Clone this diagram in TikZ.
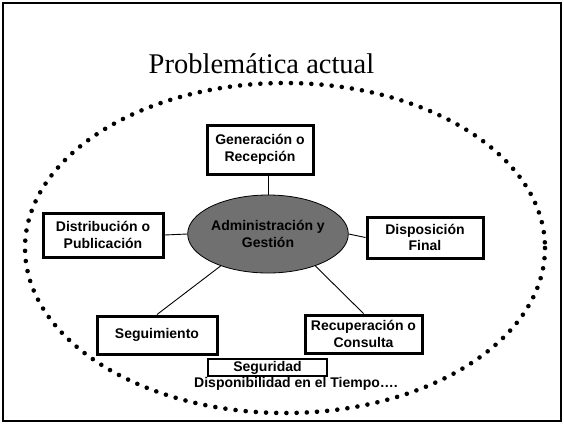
\documentclass[tikz,border=0pt]{standalone}
\usepackage{fontspec}
\setmainfont{Liberation Serif}
\setsansfont{Liberation Sans}
\usetikzlibrary{shapes.geometric}
\definecolor{hubgray}{RGB}{112,112,112}
\begin{document}
\begin{tikzpicture}[x=1pt,y=-1pt,
  label/.style={font=\sffamily\bfseries\fontsize{14}{16.5}\selectfont, align=center},
  stagebox/.style={label, draw=black, line width=3pt, fill=white, inner sep=0pt},
  hub/.style={label, ellipse, draw=black, line width=0.8pt, fill=hubgray,
    minimum width=130pt, minimum height=78pt, inner sep=0pt},
  link/.style={draw=black, line width=0.9pt},
  ring/.style={draw=black, line width=4.6pt, line cap=round, dash pattern=on 0pt off 10.2pt}]
  \useasboundingbox (0,0) rectangle (564,424);
  % slide frame
  \draw[line width=2pt] (3,3) rectangle (561,421);
  % title
  \node[font=\fontsize{28.5}{32}\selectfont, anchor=base] (title) at (261.5,73) {Problemática actual};
  % dotted boundary
  \draw[ring] (285,248) ellipse [x radius=260, y radius=165];
  % central process
  \node[hub] (adm) at (268,234) {Administración y\\Gestión};
  % stages
  \node[stagebox, minimum width=106pt, minimum height=49pt] (gen) at (260,149.5) {Generación o\\Recepción};
  \node[stagebox, minimum width=120pt, minimum height=44pt] (dist) at (103,235) {Distribución o\\Publicación};
  \node[stagebox, minimum width=116pt, minimum height=41pt] (disp) at (425,237.5) {Disposición\\Final};
  \node[stagebox, minimum width=120pt, minimum height=38pt] (seg) at (157,335) {Seguimiento};
  \node[stagebox, minimum width=117pt, minimum height=38pt] (rec) at (363.5,334) {Recuperación o\\Consulta};
  % cross-cutting aspects
  \node[label, draw=black, line width=2pt, fill=white, minimum width=119pt, minimum height=17pt, inner sep=0pt] (segur) at (267.5,367.5) {Seguridad};
  \node[label, inner sep=0pt] (disptime) at (296,384) {Disponibilidad en el Tiempo….};
  % connectors
  \draw[link] (adm.north) -- (adm.north |- gen.south);
  \draw[link] (dist.east) -- (adm.west);
  \draw[link] (adm.east) -- (disp.west);
  \draw[link] (adm.214) -- (seg.north);
  \draw[link] (adm.-34) -- (rec.north);
\end{tikzpicture}
\end{document}
